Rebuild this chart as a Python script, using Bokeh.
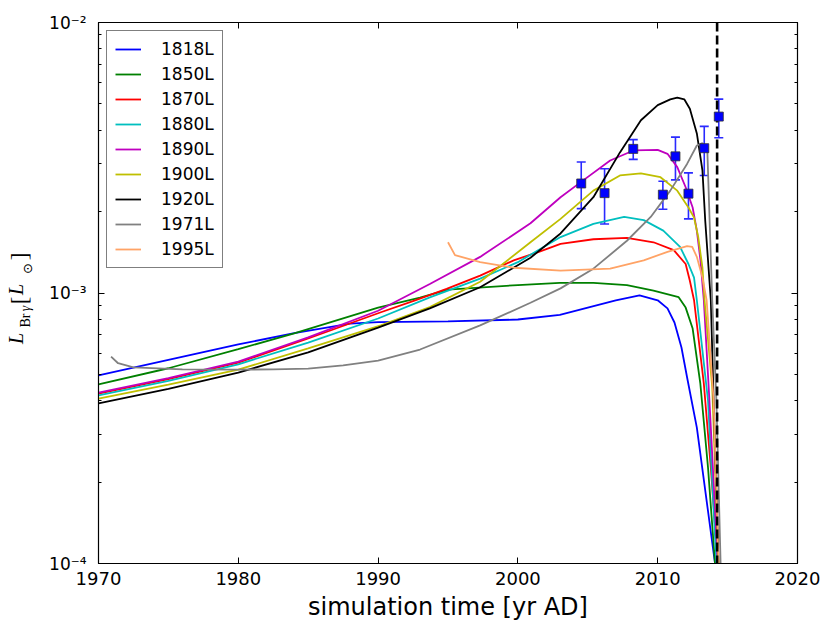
import math
from bokeh.plotting import figure
from bokeh.layouts import row
from bokeh.models import (FixedTicker, LinearAxis, LogAxis, Legend, LegendItem, Span,
                          Whisker, TeeHead, ColumnDataSource, Range1d)
from bokeh.core.properties import value
from bokeh.embed import file_html
from bokeh.resources import INLINE

# ---------------- data ----------------
names = ["1818L", "1850L", "1870L", "1880L", "1890L", "1900L", "1920L", "1971L", "1995L"]

t_1818 = [1970, 1975, 1980, 1984, 1988, 1990, 1995, 2000, 2003, 2005, 2007, 2008.7, 2010,
          2010.7, 2011.2, 2011.7, 2012.1, 2012.8, 2014.1, 2014.3]
L_1818 = [4.96e-4, 5.66e-4, 6.46e-4, 7.1e-4, 7.7e-4, 7.8e-4, 7.85e-4, 7.98e-4, 8.3e-4, 8.83e-4,
          9.4e-4, 9.8e-4, 9.4e-4, 8.77e-4, 7.78e-4, 6.29e-4, 4.88e-4, 3.18e-4, 1.0e-4, 8e-5]

t_1850 = [1970, 1975, 1980, 1984, 1990, 1993, 1995, 2000, 2003, 2005.4, 2007.8, 2009.7,
          2011.5, 2012, 2012.5, 2013.05, 2013.6, 2014.1, 2014.3]
L_1850 = [4.59e-4, 5.27e-4, 6.2e-4, 7.09e-4, 8.83e-4, 9.61e-4, 1.03e-3, 1.07e-3, 1.09e-3,
          1.09e-3, 1.07e-3, 1.02e-3, 9.65e-4, 8.83e-4, 7.39e-4, 4.62e-4, 2.26e-4, 1.0e-4, 8e-5]

t_1870 = [1970, 1975, 1980, 1985, 1990.2, 1992.6, 1994.9, 1997.3, 1999.7, 2001.5, 2003.05,
          2005.4, 2007.8, 2009.7, 2011.15, 2012, 2012.3, 2012.6, 2013.3, 2013.8, 2014.3, 2014.5]
L_1870 = [4.25e-4, 4.8e-4, 5.53e-4, 6.79e-4, 8.49e-4, 9.37e-4, 1.035e-3, 1.16e-3, 1.32e-3,
          1.42e-3, 1.52e-3, 1.58e-3, 1.6e-3, 1.54e-3, 1.44e-3, 1.28e-3, 1.11e-3, 9.4e-4,
          4.62e-4, 2.26e-4, 1.0e-4, 8e-5]

t_1880 = [1970, 1975, 1980, 1985, 1990, 1993.7, 1997.3, 2000, 2003.05, 2005.4, 2007.6, 2009.0,
          2010.4, 2011.6, 2012.2, 2012.6, 2012.8, 2013.6, 2014.2, 2014.4]
L_1880 = [4.18e-4, 4.73e-4, 5.45e-4, 6.56e-4, 8.05e-4, 9.64e-4, 1.13e-3, 1.3e-3, 1.61e-3,
          1.8e-3, 1.91e-3, 1.86e-3, 1.7e-3, 1.48e-3, 1.28e-3, 1.14e-3, 9.4e-4, 4.0e-4, 1.0e-4, 8e-5]

t_1890 = [1970, 1975, 1980, 1985, 1990, 1993.7, 1997.3, 2000.9, 2003.05, 2004.5, 2006.6,
          2008.3, 2010, 2010.7, 2011.4, 2012, 2012.5, 2012.8, 2013.06, 2013.3, 2013.7,
          2014.3, 2014.5]
L_1890 = [4.28e-4, 4.85e-4, 5.58e-4, 6.85e-4, 8.6e-4, 1.08e-3, 1.36e-3, 1.81e-3, 2.26e-3,
          2.57e-3, 3.09e-3, 3.37e-3, 3.38e-3, 3.27e-3, 2.92e-3, 2.46e-3, 2.07e-3, 1.7e-3,
          1.32e-3, 9.4e-4, 4.0e-4, 1.0e-4, 8e-5]

t_1900 = [1970, 1975, 1980, 1985, 1990.2, 1993.7, 1997.3, 2000.9, 2003.05, 2005.4, 2007.3,
          2008.8, 2010.2, 2011.4, 2012.2, 2012.6, 2012.9, 2013.2, 2013.35, 2013.9, 2014.35, 2014.5]
L_1900 = [4.07e-4, 4.58e-4, 5.21e-4, 6.24e-4, 7.59e-4, 8.87e-4, 1.1e-3, 1.54e-3, 1.88e-3,
          2.39e-3, 2.72e-3, 2.77e-3, 2.68e-3, 2.39e-3, 2.07e-3, 1.9e-3, 1.61e-3, 1.24e-3,
          9.4e-4, 4.5e-4, 1.0e-4, 8e-5]

t_1920 = [1970, 1975, 1980, 1985, 1990, 1993.7, 1997.3, 2000.9, 2003.05, 2005.4, 2007.3,
          2008.8, 2010, 2010.9, 2011.4, 2011.9, 2012.3, 2012.8, 2013.2, 2013.4, 2013.8, 2014.0,
          2014.35, 2014.5]
L_1920 = [3.91e-4, 4.42e-4, 5.08e-4, 6.03e-4, 7.45e-4, 8.77e-4, 1.05e-3, 1.35e-3, 1.66e-3,
          2.26e-3, 3.31e-3, 4.35e-3, 4.95e-3, 5.2e-3, 5.28e-3, 5.2e-3, 4.8e-3, 3.89e-3,
          2.84e-3, 1.85e-3, 9.4e-4, 4.0e-4, 1.0e-4, 8e-5]

t_1971 = [1970.9, 1971.4, 1972.5, 1976, 1980, 1982.5, 1985, 1987.5, 1990, 1993, 1997.3,
          2000.9, 2003.05, 2005.4, 2007.8, 2009.5, 2010.9, 2012.1, 2012.8, 2013.2, 2013.55,
          2013.9, 2014.2, 2014.5, 2014.7]
L_1971 = [5.82e-4, 5.5e-4, 5.31e-4, 5.22e-4, 5.21e-4, 5.22e-4, 5.25e-4, 5.4e-4, 5.62e-4,
          6.18e-4, 7.59e-4, 9.2e-4, 1.04e-3, 1.23e-3, 1.56e-3, 1.91e-3, 2.39e-3, 3.0e-3,
          3.51e-3, 3.58e-3, 3.37e-3, 9.4e-4, 4.0e-4, 1.0e-4, 8e-5]

t_1995 = [1995.0, 1995.5, 1997.3, 1999.7, 2003.05, 2006.6, 2009.0, 2010.7, 2012.1, 2012.47,
          2012.8, 2013.2, 2013.5, 2014.0, 2014.35, 2014.5]
L_1995 = [1.54e-3, 1.38e-3, 1.3e-3, 1.24e-3, 1.21e-3, 1.23e-3, 1.32e-3, 1.42e-3, 1.49e-3,
          1.48e-3, 1.36e-3, 1.14e-3, 9.4e-4, 4.0e-4, 1.0e-4, 8e-5]

obs_year = [2004.53, 2006.2, 2008.25, 2010.37, 2011.27, 2012.2, 2013.33, 2014.37]
obs_L = [2.54e-3, 2.34e-3, 3.41e-3, 2.31e-3, 3.2e-3, 2.33e-3, 3.43e-3, 4.49e-3]
obs_hi = [3.05e-3, 2.88e-3, 3.69e-3, 2.59e-3, 3.77e-3, 2.78e-3, 4.13e-3, 5.21e-3]
obs_lo = [2.05e-3, 1.8e-3, 3.12e-3, 2.04e-3, 2.62e-3, 1.88e-3, 2.72e-3, 3.75e-3]

current_year = 2014.25

x_ticks = [1970, 1980, 1990, 2000, 2010, 2020]
y_ticks = [1e-4, 1e-3, 1e-2]
y_minor = [m * 1e-4 for m in range(2, 10)] + [m * 1e-3 for m in range(2, 10)]
y_tick_labels = {1e-4: "10\u207b\u2074", 1e-3: "10\u207b\u00b3", 1e-2: "10\u207b\u00b2"}

series_t = [t_1818, t_1850, t_1870, t_1880, t_1890, t_1900, t_1920, t_1971, t_1995]
series_L = [L_1818, L_1850, L_1870, L_1880, L_1890, L_1900, L_1920, L_1971, L_1995]
colors = ["#0000ff", "#008000", "#ff0000", "#00bfbf", "#bf00bf", "#bfbf00", "#000000",
          "#808080", "#ffa366"]

# ---------------- layout geometry ----------------
W, H = 823, 628
LW = 45                              # width of the strip holding the y-axis title
FL, FR, FT, FB = 98, 797, 22, 563    # frame edges on the page
X0, X1, Y0, Y1 = 1970, 2020, 1e-4, 1e-2

p = figure(width=W - LW, height=H, x_range=Range1d(X0, X1), y_range=Range1d(Y0, Y1),
           y_axis_type="log", output_backend="svg", toolbar_location=None,
           min_border_left=FL - LW, min_border_right=W - FR, min_border_top=FT,
           min_border_bottom=H - FB)
p.xgrid.visible = False
p.ygrid.visible = False
p.outline_line_color = "black"
p.outline_line_width = 1.2
p.background_fill_color = "white"
p.border_fill_color = "white"

xt = FixedTicker(ticks=x_ticks, minor_ticks=[])
yt = FixedTicker(ticks=y_ticks, minor_ticks=y_minor)

def style_axis(ax):
    ax.major_tick_in = 6
    ax.major_tick_out = 0
    ax.minor_tick_in = 3
    ax.minor_tick_out = 0
    ax.axis_line_color = "black"
    ax.major_tick_line_color = "black"
    ax.minor_tick_line_color = "black"
    ax.major_label_text_color = "black"
    ax.major_label_text_font = "DejaVu Sans"
    ax.major_label_text_font_size = "18px"

xa = p.xaxis[0]
xa.ticker = xt
style_axis(xa)
xa.major_label_standoff = 8
xa.axis_label = "simulation time [yr AD]"
xa.axis_label_text_font = "DejaVu Sans"
xa.axis_label_text_font_size = "24px"
xa.axis_label_text_font_style = "normal"
xa.axis_label_text_color = "black"
xa.axis_label_standoff = 5

ya = p.yaxis[0]
ya.ticker = yt
style_axis(ya)
ya.major_label_text_font_size = "17px"
ya.major_label_standoff = 12
ya.major_label_overrides = y_tick_labels

# mirrored tick marks on top and right (no labels)
top = LinearAxis(ticker=xt)
style_axis(top)
top.major_label_overrides = {t: "" for t in x_ticks}
top.major_label_standoff = 0
p.add_layout(top, "above")
right = LogAxis(ticker=yt)
style_axis(right)
right.major_label_overrides = {t: "" for t in y_ticks}
right.major_label_standoff = 0
p.add_layout(right, "right")

# ---------------- curves ----------------
items = []
for name, t, L, c in zip(names, series_t, series_L, colors):
    r = p.line(t, L, line_color=c, line_width=1.8)
    items.append(LegendItem(label=name, renderers=[r]))

p.add_layout(Span(location=current_year, dimension="height", line_color="black",
                  line_width=2.6, line_dash="9 4"))

obs = ColumnDataSource(dict(x=obs_year, y=obs_L, hi=obs_hi, lo=obs_lo))
bar_color = "#2a2aff"
p.add_layout(Whisker(source=obs, base="x", upper="hi", lower="lo", dimension="height",
                     line_color=bar_color, line_width=1.6,
                     upper_head=TeeHead(size=9, line_color=bar_color, line_width=1.6),
                     lower_head=TeeHead(size=9, line_color=bar_color, line_width=1.6)))
sq = p.scatter("x", "y", source=obs, marker="square", size=9, fill_color="#0000ff",
               line_color="#303030", line_width=0.8)
sq.level = "overlay"

legend = Legend(items=items, location="top_left", margin=8, padding=8, spacing=5,
                border_line_color="black", border_line_width=1.5,
                background_fill_color="white", background_fill_alpha=1.0,
                label_text_font="DejaVu Sans", label_text_font_size="17px",
                label_text_color="black",
                glyph_width=26, glyph_height=20, label_height=20, label_standoff=20)
p.add_layout(legend)

# ---------------- y-axis title  L_Brγ [L_⊙]  in a narrow strip on the left ----------------
lab = figure(width=LW, height=H, frame_width=LW, frame_height=H,
             x_range=Range1d(0, LW), y_range=Range1d(0, H),
             output_backend="svg", toolbar_location=None, title=None,
             x_axis_location=None, y_axis_location=None,
             min_border=0, min_border_left=0, min_border_right=0, min_border_top=0,
             min_border_bottom=0)
lab.xgrid.visible = False
lab.ygrid.visible = False
lab.outline_line_color = None
lab.border_fill_color = "white"

# every piece is centred on (cx, cy) page pixels, reached via screen offsets from one anchor
CX, CY = LW / 2, 300
DX, DY = -4, -17     # correction for where the anchor lands in the rendered strip
# (text, font, size, style, centre x on page, centre y on page)
pieces = [("L", "Liberation Serif", "20px", "italic", 19.5, 333),
          ("Br", "Liberation Serif", "14px", "normal", 28.5, 315),
          ("\u03b3", "Liberation Serif", "14px", "italic", 28.5, 303),
          ("[", "Liberation Serif", "23px", "normal", 23, 295),
          ("L", "Liberation Serif", "20px", "italic", 19.5, 284),
          ("\u2299", "DejaVu Sans", "13px", "normal", 31, 263),
          ("]", "Liberation Serif", "23px", "normal", 23, 251)]
for txt, font, size, style, cx, cy in pieces:
    lab.text(x=[CX], y=[H - CY], text=[txt], angle=math.pi / 2,
             x_offset=cx - CX + DX, y_offset=cy - CY + DY,
             text_font=value(font), text_font_size=value(size), text_font_style=style,
             text_align="center", text_baseline="middle", text_color="black")

layout = row(lab, p, spacing=0)
open("out.html", "w").write(file_html(layout, INLINE))
